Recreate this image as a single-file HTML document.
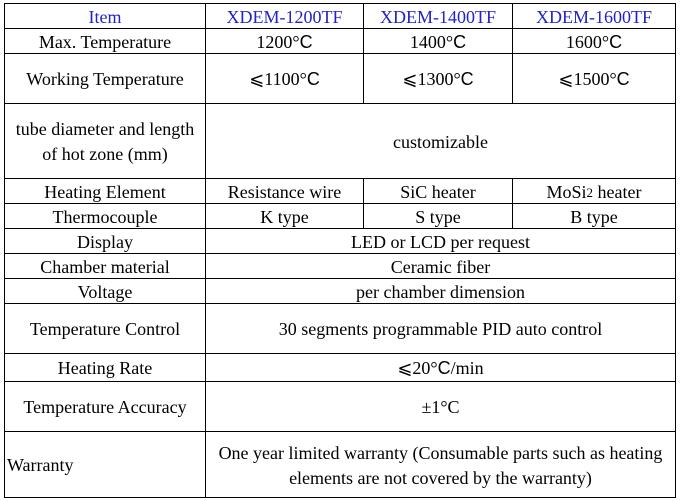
<!DOCTYPE html><html><head><style>
body{margin:0;width:680px;height:501px;background:#fff;position:relative;overflow:hidden;font-family:"Liberation Serif","Noto Serif CJK SC",serif;font-size:18px;color:#000}
.h{position:absolute;left:4px;width:672px;height:1px;background:#000}
.v{position:absolute;width:1px;background:#000}
.t{position:absolute;display:flex;align-items:center;justify-content:center;text-align:center;line-height:25px;padding-top:2px;box-sizing:border-box;white-space:nowrap}
.b{color:#2222cc}
.s{font-family:"Liberation Sans","DejaVu Sans",sans-serif}
</style></head><body>
<div class="h" style="top:3px"></div><div class="h" style="top:28px"></div><div class="h" style="top:53px"></div><div class="h" style="top:103px"></div><div class="h" style="top:178px"></div><div class="h" style="top:203px"></div><div class="h" style="top:228px"></div><div class="h" style="top:253px"></div><div class="h" style="top:278px"></div><div class="h" style="top:303px"></div><div class="h" style="top:353px"></div><div class="h" style="top:381px"></div><div class="h" style="top:431px"></div><div class="h" style="top:497px"></div>
<div class="v" style="left:4px;top:3px;height:495px"></div><div class="v" style="left:675px;top:3px;height:495px"></div>
<div class="v" style="left:205px;top:3px;height:495px"></div>
<div class="v" style="left:363px;top:3px;height:100px"></div><div class="v" style="left:512px;top:3px;height:100px"></div>
<div class="v" style="left:363px;top:178px;height:50px"></div><div class="v" style="left:512px;top:178px;height:50px"></div>

<div class="t b" style="left:5px;top:4px;width:200px;height:24px">Item</div>
<div class="t b" style="left:206px;top:4px;width:157px;height:24px">XDEM-1200TF</div>
<div class="t b" style="left:364px;top:4px;width:148px;height:24px">XDEM-1400TF</div>
<div class="t b" style="left:513px;top:4px;width:162px;height:24px">XDEM-1600TF</div>

<div class="t" style="left:5px;top:29px;width:200px;height:24px">Max. Temperature</div>
<div class="t" style="left:206px;top:29px;width:157px;height:24px">1200°<span class="s">C</span></div>
<div class="t" style="left:364px;top:29px;width:148px;height:24px">1400°<span class="s">C</span></div>
<div class="t" style="left:513px;top:29px;width:162px;height:24px">1600°<span class="s">C</span></div>

<div class="t" style="left:5px;top:54px;width:200px;height:49px">Working Temperature</div>
<div class="t" style="left:206px;top:54px;width:157px;height:49px">⩽1100°<span class="s">C</span></div>
<div class="t" style="left:364px;top:54px;width:148px;height:49px">⩽1300°<span class="s">C</span></div>
<div class="t" style="left:513px;top:54px;width:162px;height:49px">⩽1500°<span class="s">C</span></div>

<div class="t" style="left:5px;top:104px;width:200px;height:74px">tube diameter and length<br>of hot zone (mm)</div>
<div class="t" style="left:206px;top:104px;width:469px;height:74px">customizable</div>

<div class="t" style="left:5px;top:179px;width:200px;height:24px">Heating Element</div>
<div class="t" style="left:206px;top:179px;width:157px;height:24px">Resistance wire</div>
<div class="t" style="left:364px;top:179px;width:148px;height:24px">SiC heater</div>
<div class="t" style="left:513px;top:179px;width:162px;height:24px">MoSi<span style="font-size:13px">2</span>&nbsp;heater</div>

<div class="t" style="left:5px;top:204px;width:200px;height:24px">Thermocouple</div>
<div class="t" style="left:206px;top:204px;width:157px;height:24px">K type</div>
<div class="t" style="left:364px;top:204px;width:148px;height:24px">S type</div>
<div class="t" style="left:513px;top:204px;width:162px;height:24px">B type</div>

<div class="t" style="left:5px;top:229px;width:200px;height:24px">Display</div>
<div class="t" style="left:206px;top:229px;width:469px;height:24px">LED or LCD per request</div>
<div class="t" style="left:5px;top:254px;width:200px;height:24px">Chamber material</div>
<div class="t" style="left:206px;top:254px;width:469px;height:24px">Ceramic fiber</div>
<div class="t" style="left:5px;top:279px;width:200px;height:24px">Voltage</div>
<div class="t" style="left:206px;top:279px;width:469px;height:24px">per chamber dimension</div>
<div class="t" style="left:5px;top:304px;width:200px;height:49px">Temperature Control</div>
<div class="t" style="left:206px;top:304px;width:469px;height:49px">30 segments programmable PID auto control</div>
<div class="t" style="left:5px;top:354px;width:200px;height:27px">Heating Rate</div>
<div class="t" style="left:206px;top:354px;width:469px;height:27px">⩽20°<span class="s">C</span>/min</div>
<div class="t" style="left:5px;top:382px;width:200px;height:49px">Temperature Accuracy</div>
<div class="t" style="left:206px;top:382px;width:469px;height:49px">±1°C</div>
<div class="t" style="left:7px;top:432px;width:198px;height:65px;justify-content:flex-start">Warranty</div>
<div class="t" style="left:206px;top:432px;width:469px;height:65px">One year limited warranty (Consumable parts such as heating<br>elements are not covered by the warranty)</div>
</body></html>
